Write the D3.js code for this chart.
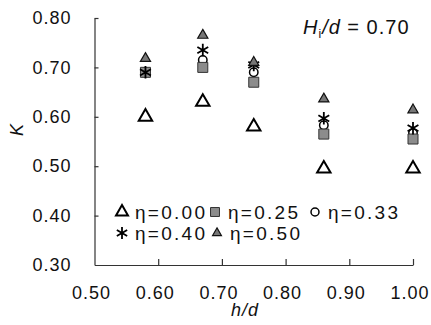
<!DOCTYPE html>
<html><head><meta charset="utf-8">
<script src="https://cdn.jsdelivr.net/npm/d3@7"></script>
<style>body{margin:0;background:#fff}svg{display:block}text{font-family:"Liberation Sans",Arial,sans-serif}</style>
</head><body><svg id="c" width="431" height="325"></svg>
<script>
const hd = [0.58, 0.67, 0.75, 0.86, 1.00];
const k000 = [0.60, 0.63, 0.58, 0.495, 0.495];
const k025 = [0.69, 0.70, 0.67, 0.565, 0.555];
const k033 = [0.69, 0.715, 0.69, 0.583, 0.567];
const k040 = [0.69, 0.735, 0.705, 0.597, 0.577];
const k050 = [0.718, 0.765, 0.71, 0.636, 0.614];
const seriesNames = ["η=0.00", "η=0.25", "η=0.33", "η=0.40", "η=0.50"];
const xTicks = [0.5, 0.6, 0.7, 0.8, 0.9, 1.0];
const yTicks = [0.3, 0.4, 0.5, 0.6, 0.7, 0.8];

const svg = d3.select("#c");
const x = d3.scaleLinear([0.5, 1.0], [94.5, 413]);
const y = d3.scaleLinear([0.3, 0.8], [265, 18]);

const styles = [
  {sym: d3.symbolTriangle, size: 78, lsize: 62, fill: "none", stroke: "#000", sw: 2},
  {sym: d3.symbolSquare, size: 100, lsize: 80, fill: "#8c8c8c", stroke: "#333", sw: 1},
  {sym: d3.symbolCircle, size: 56, lsize: 50, fill: "none", stroke: "#000", sw: 1.5},
  {sym: d3.symbolAsterisk, size: 110, lsize: 100, fill: "none", stroke: "#000", sw: 1.8},
  {sym: d3.symbolTriangle, size: 45, lsize: 34, fill: "#777", stroke: "#111", sw: 1.2}
];
const allK = [k000, k025, k033, k040, k050];
const drawOrder = [0, 2, 1, 3, 4];

// axes
const gy = svg.append("g").attr("transform", "translate(94.5,0)")
  .call(d3.axisLeft(y).tickValues(yTicks).tickFormat(d3.format(".2f")).tickSizeInner(-4).tickSizeOuter(0).tickPadding(23));
const gx = svg.append("g").attr("transform", "translate(0,265)")
  .call(d3.axisBottom(x).tickValues(xTicks).tickFormat(d3.format(".2f")).tickSizeInner(-6).tickSizeOuter(0).tickPadding(21));
[gy, gx].forEach(g => {
  g.selectAll("path,line").attr("stroke", "#333").attr("stroke-width", 1.2);
  g.selectAll("text").attr("font-size", 18).attr("fill", "#111").attr("letter-spacing", 1)
   .attr("font-family", '"Liberation Sans",Arial,sans-serif');
});
gx.selectAll("text").attr("dx", -3.5);
gx.selectAll(".tick").filter(d => d === 0.5).select("line").remove();
gy.selectAll(".tick").filter(d => d === 0.3).select("line").remove();

// data points
drawOrder.forEach(i => {
  const ks = allK[i];
  const s = styles[i];
  svg.append("g").selectAll("path").data(hd.map((h, j) => [h, ks[j]])).join("path")
    .attr("transform", d => `translate(${x(d[0])},${y(d[1])})`)
    .attr("d", d3.symbol(s.sym, s.size))
    .attr("fill", s.fill).attr("stroke", s.stroke).attr("stroke-width", s.sw);
});

// legend
const legPos = [[122, 212], [215, 212], [315, 212], [122, 233], [217, 233]];
seriesNames.forEach((n, i) => {
  const s = styles[i];
  const [lx, ly] = legPos[i];
  svg.append("path").attr("transform", `translate(${lx},${ly})`)
    .attr("d", d3.symbol(s.sym, s.lsize))
    .attr("fill", s.fill).attr("stroke", s.stroke).attr("stroke-width", s.sw);
  svg.append("text").attr("x", lx + 13).attr("y", ly + 7).attr("font-size", 19).attr("fill", "#111")
    .attr("textLength", 70).attr("lengthAdjust", "spacing").text(n);
});

// title
const t = svg.append("text").attr("x", 303).attr("y", 34).attr("font-size", 20).attr("fill", "#111").attr("letter-spacing", 1);
t.append("tspan").attr("font-style", "italic").text("H");
t.append("tspan").attr("font-size", 12).attr("dy", 4).text("i");
t.append("tspan").attr("font-style", "italic").attr("dy", -4).text("/d");
t.append("tspan").text(" = 0.70");

// axis labels
svg.append("text").attr("transform", "translate(23,130) rotate(-90)").attr("text-anchor", "middle")
  .attr("font-size", 18).attr("font-style", "italic").attr("fill", "#111").text("K");
svg.append("text").attr("x", 245).attr("y", 316).attr("text-anchor", "middle")
  .attr("font-size", 18).attr("font-style", "italic").attr("fill", "#111").attr("letter-spacing", 1).text("h/d");
</script></body></html>
